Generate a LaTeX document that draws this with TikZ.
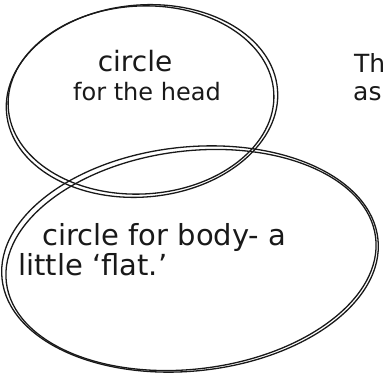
\documentclass[tikz,border=0pt]{standalone}
\usepackage{fontspec}
\setmainfont{DejaVu Sans}
\begin{document}
\begin{tikzpicture}[x=1pt,y=1pt,
  pencil/.style={line width=1.3pt,black!90},
  every node/.style={inner sep=0pt,anchor=base west,text=black!90}]
  \useasboundingbox (0,0) rectangle (386,376);
  \clip (0,0) rectangle (386,376);
  % head
  \draw[pencil] (142,275) ellipse[x radius=136,y radius=96,rotate=5];
  \draw[pencil] (141,276) ellipse[x radius=133,y radius=94,rotate=3];
  % body
  \draw[pencil] (190,117) ellipse[x radius=189,y radius=112,rotate=6];
  \draw[pencil] (191,116) ellipse[x radius=186,y radius=109,rotate=7];
  % labels
  \node[anchor=base,font=\fontsize{28}{30}\selectfont] (headtxt) at (135,305) {circle};
  \node[anchor=base,font=\fontsize{24}{26}\selectfont] (headsub) at (147,276) {for the head};
  \node[font=\fontsize{25}{27}\selectfont] (sidetxt) at (354,304) {Th};
  \node[font=\fontsize{25}{27}\selectfont] (sidesub) at (353,276) {as};
  \node[font=\fontsize{29}{31}\selectfont] (bodytxt) at (42,131) {circle for body- a};
  \node[font=\fontsize{29}{31}\selectfont] (bodysub) at (18,101) {little `flat.'};
\end{tikzpicture}
\end{document}
